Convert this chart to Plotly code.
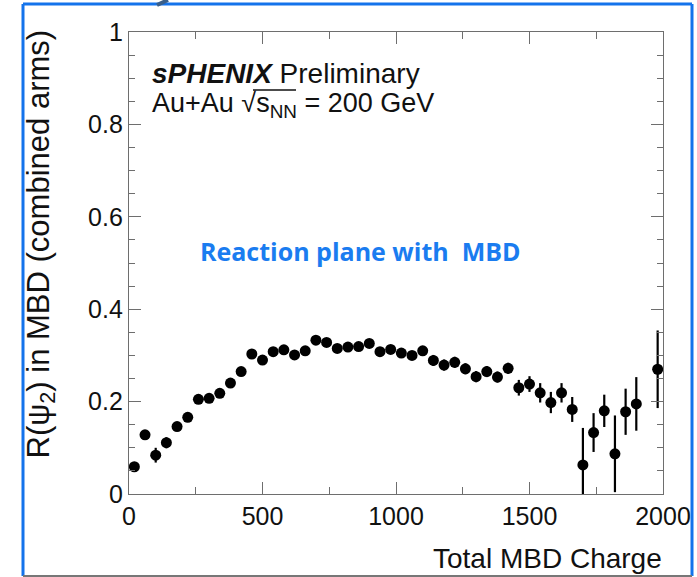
import plotly.graph_objects as go

# ---- data ----
charge = [20, 60, 100, 140, 180, 220, 260, 300, 340, 380, 420, 460, 500, 540, 580,
          620, 660, 700, 740, 780, 820, 860, 900, 940, 980, 1020, 1060, 1100, 1140,
          1180, 1220, 1260, 1300, 1340, 1380, 1420, 1460, 1500, 1540, 1580, 1620,
          1660, 1700, 1740, 1780, 1820, 1860, 1900, 1980]
resolution = [0.059, 0.128, 0.084, 0.111, 0.146, 0.166, 0.205, 0.207, 0.218, 0.240,
              0.265, 0.303, 0.290, 0.308, 0.312, 0.301, 0.310, 0.333, 0.328, 0.315,
              0.318, 0.319, 0.326, 0.308, 0.313, 0.305, 0.300, 0.310, 0.289, 0.279,
              0.285, 0.271, 0.254, 0.265, 0.253, 0.272, 0.230, 0.238, 0.219, 0.198,
              0.219, 0.183, 0.063, 0.133, 0.180, 0.087, 0.178, 0.195, 0.270]
res_err = [0.008, 0.008, 0.016, 0.012, 0.009, 0.009, 0.007, 0.007, 0.007, 0.007,
           0.007, 0.007, 0.007, 0.007, 0.007, 0.007, 0.007, 0.007, 0.007, 0.007,
           0.007, 0.007, 0.007, 0.007, 0.007, 0.007, 0.009, 0.009, 0.012, 0.012,
           0.012, 0.012, 0.012, 0.012, 0.012, 0.012, 0.017, 0.017, 0.021, 0.023,
           0.021, 0.027, 0.080, 0.042, 0.035, 0.083, 0.050, 0.058, 0.084]

x_tickvals = [0, 500, 1000, 1500, 2000]
x_ticktext = ["0", "500", "1000", "1500", "2000"]
y_tickvals = [0, 0.2, 0.4, 0.6, 0.8, 1.0]
y_ticktext = ["0", "0.2", "0.4", "0.6", "0.8", "1"]

FONT = "Liberation Sans, Arial, sans-serif"
AXIS_GRAY = "#6e6e6e"

W, H = 697, 577
ML, MR, MT, MB = 129, 34, 32, 83
PW, PH = W - ML - MR, H - MT - MB


def px(x):
    return (x - ML) / PW


def py(y):
    return (H - MB - y) / PH


fig = go.Figure()
fig.add_trace(go.Scatter(
    x=charge, y=resolution, mode="markers",
    marker=dict(color="black", size=11, symbol="circle"),
    error_y=dict(type="data", array=res_err, color="black", thickness=2.2, width=0),
    showlegend=False,
))

fig.update_layout(
    width=W, height=H, autosize=False,
    margin=dict(l=ML, r=MR, t=MT, b=MB, pad=0, autoexpand=False),
    paper_bgcolor="white", plot_bgcolor="white",
    font=dict(family=FONT, color="#111111", size=25),
)

fig.update_xaxes(
    range=[0, 2000], tickvals=x_tickvals, ticktext=x_ticktext, automargin=False,
    showline=True, linecolor=AXIS_GRAY, linewidth=1.3, mirror="ticks",
    ticks="inside", ticklen=12, tickcolor=AXIS_GRAY, tickwidth=1.3,
    minor=dict(dtick=250, ticks="inside", ticklen=7, tickcolor=AXIS_GRAY, tickwidth=1.3),
    showgrid=False, zeroline=False,
    tickfont=dict(size=25, family=FONT),
)
fig.update_yaxes(
    range=[0, 1], tickvals=y_tickvals, ticktext=y_ticktext, automargin=False,
    showline=True, linecolor=AXIS_GRAY, linewidth=1.3, mirror="ticks",
    ticks="inside", ticklen=12, tickcolor=AXIS_GRAY, tickwidth=1.3,
    minor=dict(dtick=0.05, ticks="inside", ticklen=6, tickcolor=AXIS_GRAY, tickwidth=1.3),
    showgrid=False, zeroline=False,
    tickfont=dict(size=25, family=FONT),
)

annotations = [
    dict(text="<b><i>sPHENIX</i></b> Preliminary", x=px(150), y=py(73),
         xref="paper", yref="paper", xanchor="left", yanchor="middle",
         showarrow=False, font=dict(size=28, family=FONT, color="#111111")),
    dict(text="Au+Au √s<sub>NN</sub> = 200 GeV",
         x=px(150), y=py(105), xref="paper", yref="paper", xanchor="left", yanchor="middle",
         showarrow=False, font=dict(size=27, family=FONT, color="#111111")),
    dict(text="<b>Reaction plane with  MBD</b>", x=px(360), y=py(251),
         xref="paper", yref="paper", xanchor="center", yanchor="middle",
         showarrow=False, font=dict(size=25, family="Open Sans, sans-serif", color="#1a7cf0")),
    dict(text="R(ψ<sub>2</sub>) in MBD (combined arms)", x=px(40), y=py(28),
         xref="paper", yref="paper", xanchor="center", yanchor="top", textangle=-90,
         showarrow=False, font=dict(size=31, family=FONT, color="#111111")),
    dict(text="Total MBD Charge", x=px(664), y=py(558),
         xref="paper", yref="paper", xanchor="right", yanchor="middle",
         showarrow=False, font=dict(size=28, family=FONT, color="#111111")),
]
fig.update_layout(annotations=annotations)

FL, FR, FT, FB = 23, 692, 4, 576
shapes = [
    # blue slide frame (left, top, right) and grey bottom edge
    dict(type="line", xref="paper", yref="paper", x0=px(FL), x1=px(FL), y0=py(FB), y1=py(FT),
         line=dict(color="#1473eb", width=3)),
    dict(type="line", xref="paper", yref="paper", x0=px(FL), x1=px(FR), y0=py(FT), y1=py(FT),
         line=dict(color="#1473eb", width=3)),
    dict(type="line", xref="paper", yref="paper", x0=px(FR), x1=px(FR), y0=py(FB), y1=py(FT),
         line=dict(color="#1473eb", width=3)),
    dict(type="line", xref="paper", yref="paper", x0=px(FL), x1=px(FR), y0=py(FB), y1=py(FB),
         line=dict(color="#777777", width=2)),
    # overline of the square-root sign
    dict(type="line", xref="paper", yref="paper", x0=px(253), x1=px(296), y0=py(90), y1=py(90),
         line=dict(color="#111111", width=1.5)),
    # dark mark at top edge
    dict(type="line", xref="paper", yref="paper", x0=px(157), x1=px(168), y0=py(5), y1=py(0),
         line=dict(color="#3a5f8a", width=4)),
]
fig.update_layout(shapes=shapes)

fig.write_html(
    "out.html",
    config={"displayModeBar": False},
    post_script="document.body.style.margin='0';document.body.style.overflow='hidden';",
)
